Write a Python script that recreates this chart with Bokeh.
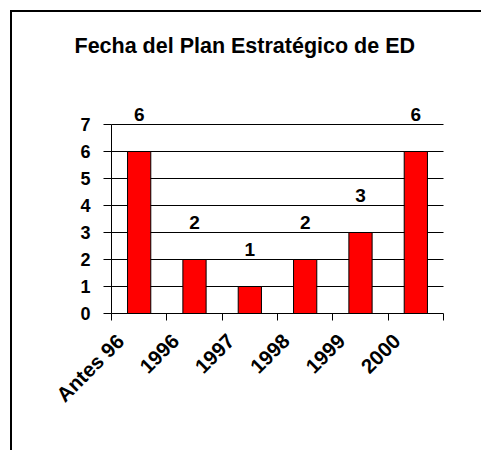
import math
from bokeh.plotting import figure
from bokeh.models import (ColumnDataSource, LinearAxis, FixedTicker, Grid, LabelSet, Title, Range1d)
from bokeh.core.properties import value
from bokeh.embed import file_html
from bokeh.resources import INLINE

# ---- data ----
categories = ["Antes 96", "1996", "1997", "1998", "1999", "2000"]
values = [6, 2, 1, 2, 3, 6]
y_ticks = [0, 1, 2, 3, 4, 5, 6, 7]
title_text = "Fecha del Plan Estratégico de ED"

FONT = "Liberation Sans"
n = len(categories)

# ---- layout (pixels) ----
W, H = 471, 440
MB_L, MB_R, MB_T, MB_B = 36, 6, 50, 22
UX = 332 / n          # px per category
UY = 27.0             # px per unit
X0_PX = 111 - 12 - MB_L   # distance frame-left -> category 0 boundary
Y0_PX = 313 - 12 - MB_T   # distance frame-top -> value 0
FW = W - MB_L - MB_R
FH = H - MB_T - MB_B

xpos = [i + 0.5 for i in range(n)]
src = ColumnDataSource(dict(x=xpos, cat=categories, val=values,
                            lab=[str(v) for v in values], zero=[0] * n))

p = figure(width=W, height=H, output_backend="svg", toolbar_location=None,
           x_range=Range1d(-X0_PX / UX, (FW - X0_PX) / UX),
           y_range=Range1d(-(FH - Y0_PX) / UY, Y0_PX / UY),
           x_axis_type=None, y_axis_type=None,
           min_border_left=MB_L, min_border_top=MB_T,
           min_border_right=MB_R, min_border_bottom=MB_B)
p.styles = {"margin": "10px 0 0 10px", "border-top": "2px solid black",
            "border-left": "2px solid black"}
p.outline_line_color = None
p.background_fill_color = "white"
p.border_fill_color = "white"

p.title = Title(text=title_text, align="left", offset=26, standoff=10,
                text_font=FONT, text_font_style="bold", text_font_size="21.5px",
                text_color="black")

# y axis
yax = LinearAxis(ticker=FixedTicker(ticks=y_ticks), fixed_location=0,
                 bounds=(y_ticks[0], y_ticks[-1]))
yax.axis_line_color = "black"
yax.major_tick_out = 8
yax.major_tick_in = 0
yax.minor_tick_out = 0
yax.minor_tick_in = 0
yax.major_tick_line_color = "black"
yax.major_label_standoff = 13
yax.major_label_text_font = FONT
yax.major_label_text_font_style = "bold"
yax.major_label_text_font_size = "18px"
yax.major_label_text_color = "black"
p.add_layout(yax, "left")

# x axis (ticks at category boundaries)
bounds = list(range(n + 1))
xax = LinearAxis(ticker=FixedTicker(ticks=bounds), fixed_location=0, bounds=(0, n))
xax.axis_line_color = "black"
xax.major_tick_out = 7
xax.major_tick_in = 0
xax.minor_tick_out = 0
xax.minor_tick_in = 0
xax.major_label_overrides = {b: "" for b in bounds}
xax.major_label_text_font_size = "1px"
p.add_layout(xax, "below")

p.add_layout(Grid(dimension=1, ticker=FixedTicker(ticks=y_ticks[1:]),
                  cross_bounds=(0, n), grid_line_color="black", grid_line_width=1))

p.vbar(x="x", top="val", width=0.42, source=src,
       fill_color="#FF0000", line_color="black", line_width=1)

# data labels
p.add_layout(LabelSet(x="x", y="val", text="lab", source=src, y_offset=37,
                      text_align="center", text_baseline="middle",
                      text_font=value(FONT), text_font_style="bold",
                      text_font_size="19px", text_color="black"))

# category labels (rotated)
p.add_layout(LabelSet(x="x", y="zero", text="cat", source=src,
                      x_offset=-19, y_offset=-24, angle=math.pi / 4,
                      text_align="right", text_baseline="middle",
                      text_font=value(FONT), text_font_style="bold",
                      text_font_size="20.5px", text_color="black"))

open("out.html", "w").write(file_html(p, INLINE))
